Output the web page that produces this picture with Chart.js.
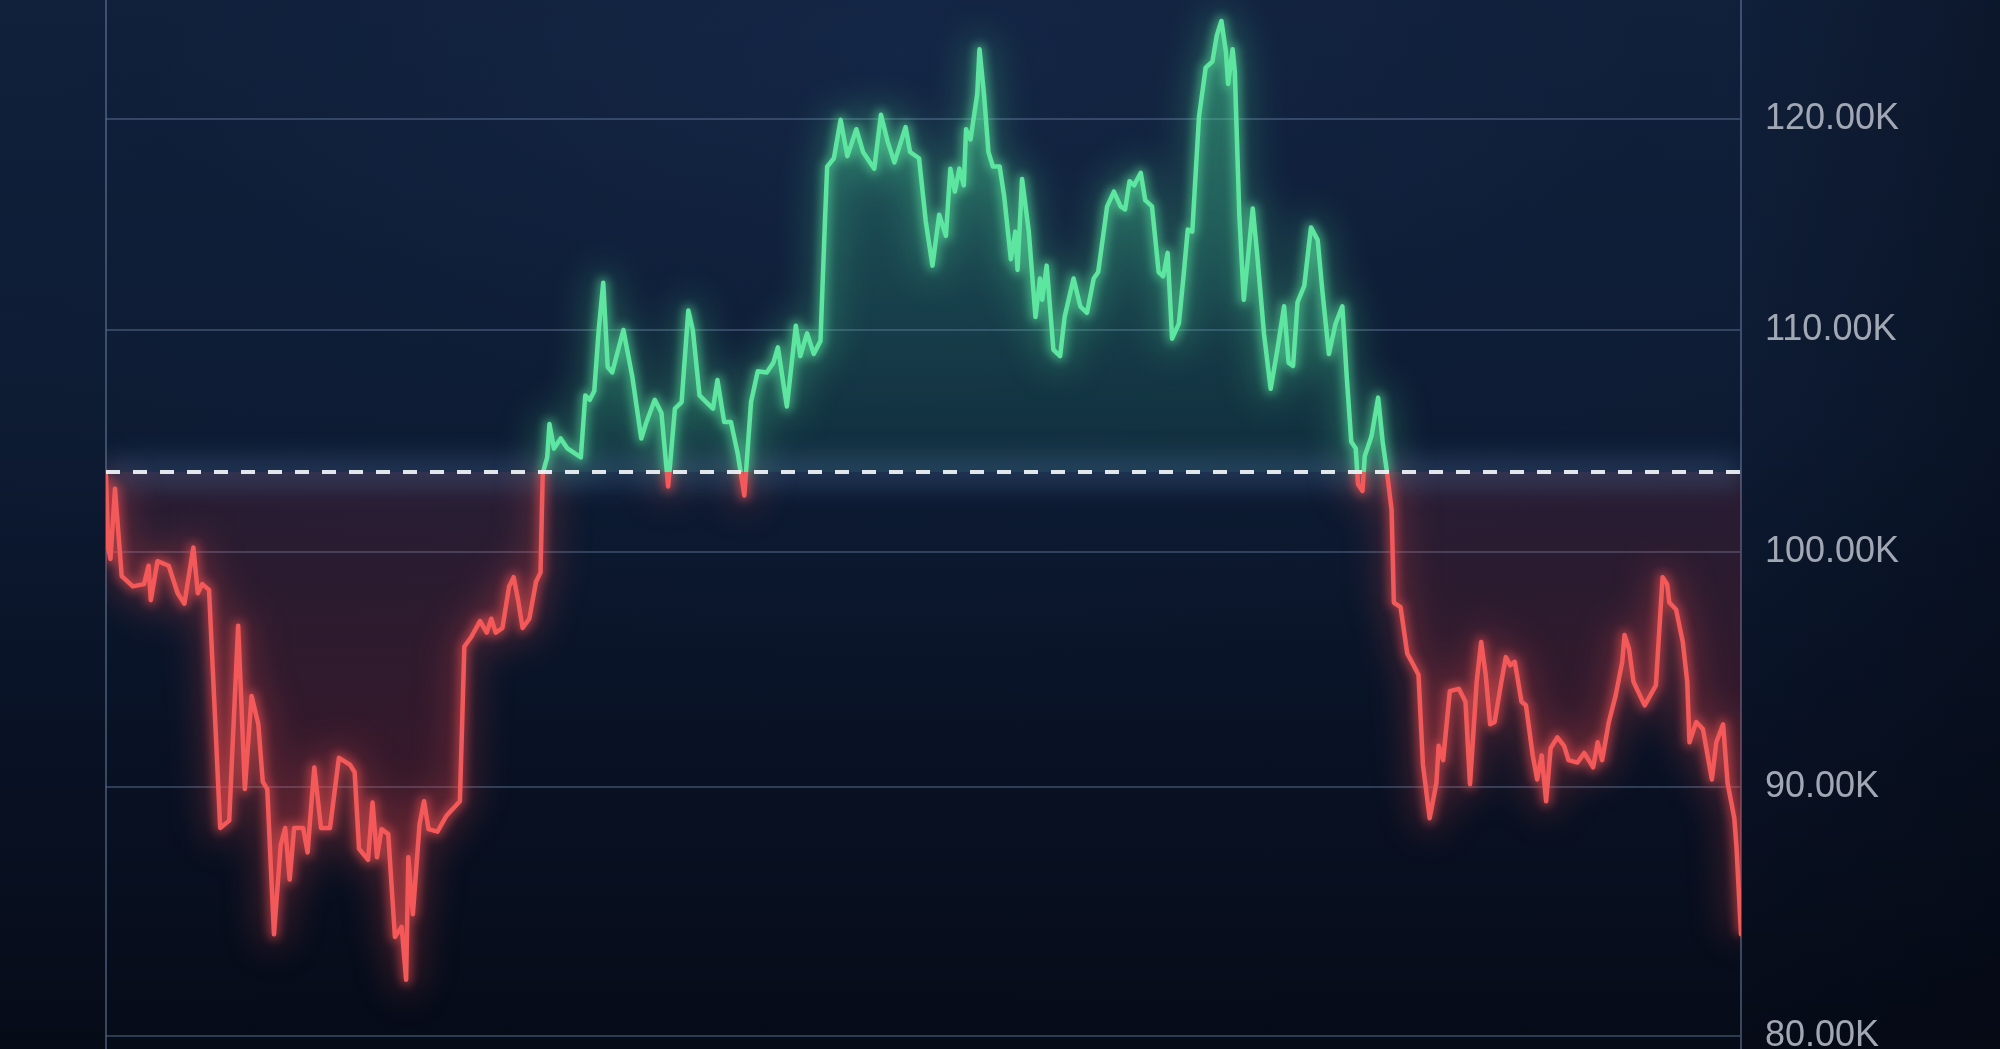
<!DOCTYPE html>
<html>
<head>
<meta charset="utf-8">
<script src="https://cdn.jsdelivr.net/npm/chart.js@4.4.1/dist/chart.umd.min.js"></script>
<style>
html,body{margin:0;padding:0;width:2000px;height:1049px;overflow:hidden;}
body{
  background:
    linear-gradient(90deg, rgba(0,0,0,0) 0%, rgba(0,0,0,0) 86%, rgba(3,6,14,0.35) 100%),
    radial-gradient(ellipse 75% 70% at 45% 5%, rgba(22,42,76,0.6) 0%, rgba(15,30,56,0.35) 50%, rgba(0,0,0,0) 85%),
    linear-gradient(180deg,#11213c 0%,#0d1b33 40%,#091225 70%,#060b18 100%);
}
#wrap{position:absolute;left:0;top:0;width:2000px;height:1049px;}
</style>
</head>
<body>
<div id="wrap"><canvas id="c" width="2000" height="1049"></canvas></div>
<script>
// ---- data (prices in thousands USD, x = half-day periods) ----
const days = [
  0,1,2,4,7,12,17,19,20,23,
  28,32,35,39,41,43,46,51,55,59,
  62,65,68,70,72,75,78,80,82,84,
  88,90,93,96,100,104,109,111,113,117,
  119,121,123,126,129,132,134,135,137,140,
  142,144,148,152,158,160,163,167,170,172,
  174,177,180,182,184,186,189,192,194,195,
  197,198,200,203,206,209,212,214,216,218,
  220,222,224,226,231,235,239,241,245,248,
  251,254,257,260,262,265,268,271,273,276,
  279,282,285,288,291,295,298,300,304,308,
  310,313,316,319,321,322,325,328,331,335,
  338,343,346,349,352,357,359,363,366,369,
  372,375,377,379,381,383,384,386,389,390,
  392,394,396,399,401,404,406,407,409,412,
  415,417,418,420,423,426,428,432,435,438,
  441,443,447,450,453,455,457,459,462,464,
  467,470,472,474,476,479,481,483,485,488,
  491,494,496,498,500,501,503,504,506,508,
  512,514,517,520,523,526,528,530,532,535,
  538,541,543,546,549,552,554,556,558,559,
  561,562,565,568,570,572,574,575,578,581,
  583,586,588,591,594,595,597,600,604,607,
  609,612,614,616,618,620,623,625,627,629,
  632,634,637,639,641,643,645,648,651,653,
  657,660,664,666,668,671,674,677,678,680,
  682,687,692,695,697,698,701,704,706,707,
  710,713,717,719,722,724,727,728,730
];
const priceK = [
  103.4,100.2,99.7,102.8,98.95,98.5,98.6,99.4,97.9,99.6,
  99.4,98.2,97.75,100.2,98.2,98.6,98.35,88.3,88.6,96.8,
  89.9,93.8,92.6,90.2,89.9,84.0,87.6,88.3,86.2,88.3,
  88.3,87.3,90.8,88.3,88.3,91.2,90.9,90.6,87.45,87.0,
  89.35,87.1,88.25,88.05,83.9,84.3,82.2,87.1,84.8,88.45,
  89.4,88.25,88.15,88.8,89.4,95.9,96.3,97.0,96.5,97.1,
  96.5,96.7,98.5,98.9,97.9,96.7,97.1,98.7,99.1,103.5,
  104.2,105.7,104.6,105.05,104.6,104.4,104.2,107.0,106.8,107.2,
  110.0,112.2,108.3,108.05,110.0,107.85,105.05,105.7,106.8,106.2,
  102.9,106.4,106.7,110.9,110.0,107.0,106.7,106.4,107.7,105.8,
  105.8,104.4,102.5,106.7,108.1,108.05,108.5,109.2,106.5,110.2,
  108.8,109.85,108.9,109.5,115.1,117.7,118.1,119.95,118.2,119.5,
  118.4,117.6,120.2,118.9,117.9,119.6,118.4,118.1,115.1,113.0,
  115.4,114.4,117.6,116.5,117.6,116.8,119.5,119.0,121.2,123.4,
  121.2,118.4,117.7,117.7,116.3,113.3,114.6,112.8,117.1,114.6,
  110.6,112.4,111.4,113.0,109.1,108.8,110.6,112.4,111.1,110.8,
  112.4,112.7,115.8,116.5,115.8,115.65,117.0,116.8,117.4,116.1,
  115.8,112.7,112.5,113.6,109.6,110.3,112.4,114.7,114.6,120.1,
  122.5,122.8,124.1,124.8,123.3,121.7,123.4,122.3,115.4,111.4,
  115.7,113.5,109.85,107.3,109.1,111.1,108.5,108.35,111.3,112.05,
  114.8,114.2,111.9,108.9,110.3,111.1,107.8,104.9,104.6,103.0,
  102.7,104.25,105.15,106.9,104.9,103.5,101.85,97.8,97.6,95.6,
  95.25,94.7,90.9,88.7,90.15,91.7,91.1,94.0,94.1,93.55,
  90.1,94.4,96.1,94.7,92.6,92.7,94.4,95.45,95.1,95.25,
  93.55,93.4,91.3,90.3,91.3,89.4,91.6,92.05,91.7,91.1,
  91.0,91.4,90.8,91.85,91.1,92.7,93.8,95.25,96.4,95.8,
  94.4,93.4,94.25,98.9,98.6,97.8,97.5,96.1,94.4,91.85,
  92.7,92.4,90.3,91.85,92.6,90.15,88.7,87.5,84.0
];
const baselineK = 103.55;
const yTicksK = [80, 90, 100, 110, 120];
const yMinK = 79.5;
const yMaxK = 125.84;

// ---- compressed (power) value scale, as seen in the reference axis ----
const POW = 0.45;
class PowerScale extends Chart.LinearScale {
  static id = 'power';
  static defaults = {};
  _tf(v) { return Math.pow(v, POW); }
  getPixelForValue(value) {
    if (value === null || value === undefined || isNaN(value)) return NaN;
    const a = this._tf(this.min), b = this._tf(this.max);
    return this.getPixelForDecimal((this._tf(value) - a) / (b - a));
  }
  getValueForPixel(pixel) {
    const a = this._tf(this.min), b = this._tf(this.max);
    return Math.pow(a + this.getDecimalForPixel(pixel) * (b - a), 1 / POW);
  }
}
Chart.register(PowerScale);

const GREEN = '#5ce6a0';
const RED = '#f45858';

function splitGradient(ctx, stops) {
  const chart = ctx.chart;
  const area = chart.chartArea;
  if (!area || !chart.scales.y) return stops[3];
  const y0 = chart.scales.y.getPixelForValue(baselineK);
  let t = (y0 - area.top) / (area.bottom - area.top);
  t = Math.min(Math.max(t, 0), 1);
  const g = chart.ctx.createLinearGradient(0, area.top, 0, area.bottom);
  g.addColorStop(0, stops[0]);
  g.addColorStop(t, stops[1]);
  g.addColorStop(Math.min(t + 0.0001, 1), stops[2]);
  g.addColorStop(1, stops[3]);
  return g;
}

const points = days.map((d, i) => ({ x: d, y: priceK[i] }));
const basePoints = [{ x: days[0], y: baselineK }, { x: days[days.length - 1], y: baselineK }];

const glowPlugin = {
  id: 'glowBlur',
  beforeDatasetDraw(chart, args) {
    const ds = chart.data.datasets[args.index];
    if (ds.blurPx) { chart.ctx.save(); chart.ctx.filter = 'blur(' + ds.blurPx + 'px)'; }
  },
  afterDatasetDraw(chart, args) {
    const ds = chart.data.datasets[args.index];
    if (ds.blurPx) { chart.ctx.restore(); }
  }
};

const gridColor = 'rgba(100,125,160,0.42)';

new Chart(document.getElementById('c'), {
  type: 'line',
  data: {
    datasets: [
      {
        label: 'area',
        data: points,
        order: 7,
        borderWidth: 0,
        pointRadius: 0,
        fill: { value: baselineK },
        backgroundColor: (ctx) => splitGradient(ctx, [
          'rgba(70,215,150,0.36)', 'rgba(45,160,130,0.14)',
          'rgba(210,55,70,0.13)', 'rgba(215,55,70,0.30)'
        ])
      },
      {
        label: 'baseGlow',
        data: basePoints,
        order: 6,
        blurPx: 12,
        borderWidth: 30,
        borderColor: 'rgba(110,150,210,0.22)',
        pointRadius: 0,
        fill: false
      },
      {
        label: 'glowWide',
        data: points,
        order: 5,
        blurPx: 18,
        borderWidth: 26,
        borderJoinStyle: 'round',
        pointRadius: 0,
        fill: false,
        borderColor: (ctx) => splitGradient(ctx, [
          'rgba(80,230,155,0.26)', 'rgba(80,230,155,0.26)',
          'rgba(245,80,80,0.26)', 'rgba(245,80,80,0.26)'
        ])
      },
      {
        label: 'glowNarrow',
        data: points,
        order: 4,
        blurPx: 5,
        borderWidth: 11,
        borderJoinStyle: 'round',
        pointRadius: 0,
        fill: false,
        borderColor: (ctx) => splitGradient(ctx, [
          'rgba(90,230,160,0.5)', 'rgba(90,230,160,0.5)',
          'rgba(245,85,85,0.5)', 'rgba(245,85,85,0.5)'
        ])
      },
      {
        label: 'price',
        data: points,
        order: 2,
        borderWidth: 4.5,
        borderJoinStyle: 'round',
        borderCapStyle: 'round',
        pointRadius: 0,
        fill: false,
        borderColor: (ctx) => splitGradient(ctx, [GREEN, GREEN, RED, RED])
      },
      {
        label: 'baseline',
        data: basePoints,
        order: 1,
        borderWidth: 4,
        borderDash: [14, 13],
        borderColor: 'rgba(236,240,246,0.95)',
        pointRadius: 0,
        fill: false
      }
    ]
  },
  options: {
    responsive: false,
    animation: false,
    events: [],
    layout: { padding: { left: 106, right: 0, top: 0, bottom: 0 } },
    plugins: { legend: { display: false }, tooltip: { enabled: false } },
    scales: {
      x: {
        type: 'linear',
        min: days[0],
        max: days[days.length - 1],
        afterBuildTicks: (s) => { s.ticks = [{ value: days[0] }]; },
        ticks: { display: false },
        grid: { color: 'rgba(105,130,165,0.5)', lineWidth: 2, drawTicks: false },
        border: { display: false },
        afterFit: (s) => { s.height = 0; s.paddingLeft = 0; s.paddingRight = 0; }
      },
      y: {
        type: 'power',
        position: 'right',
        min: yMinK,
        max: yMaxK,
        afterBuildTicks: (s) => { s.ticks = yTicksK.map(v => ({ value: v })); },
        ticks: {
          padding: 24,
          color: '#a1a8b4',
          font: { family: "'Liberation Sans', Arial, sans-serif", size: 36 },
          callback: (v) => Number(v).toFixed(2) + 'K'
        },
        grid: { color: gridColor, lineWidth: 2, drawTicks: false },
        border: { display: true, color: 'rgba(105,130,165,0.5)', width: 2 },
        afterFit: (s) => { s.width = 259; s.paddingTop = 0; s.paddingBottom = 0; }
      }
    }
  },
  plugins: [glowPlugin]
});
</script>
</body>
</html>
